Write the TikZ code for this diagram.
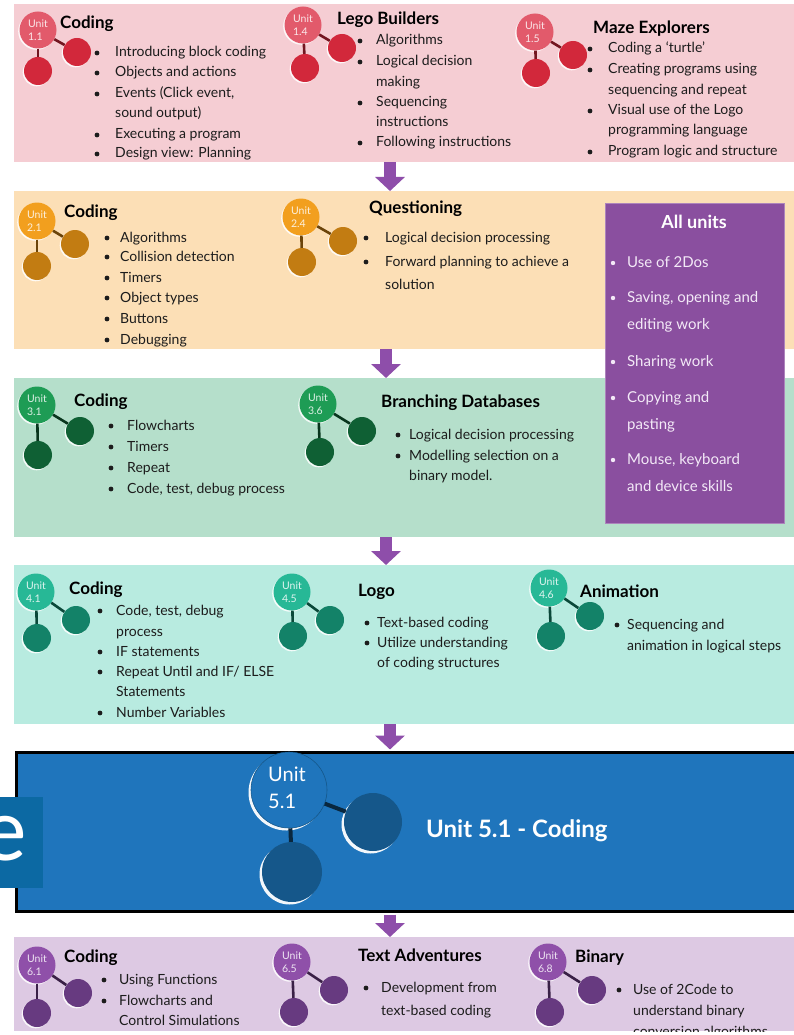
\documentclass[tikz,border=0pt]{standalone}
\usepackage{fontspec}
\setmainfont{Lato}
\usetikzlibrary{shadows,arrows.meta,calc}
\definecolor{txt}{HTML}{1C1C1C}
\definecolor{pinkband}{HTML}{F5CDD3}
\definecolor{pinkA}{HTML}{E25A6B}
\definecolor{pinkB}{HTML}{D2283B}
\definecolor{orgband}{HTML}{FCDFB6}
\definecolor{orgA}{HTML}{F29F1E}
\definecolor{orgB}{HTML}{C27C12}
\definecolor{grnband}{HTML}{B5DFCB}
\definecolor{grnA}{HTML}{1E9C55}
\definecolor{grnB}{HTML}{0F6034}
\definecolor{tealband}{HTML}{B8EBE0}
\definecolor{tealA}{HTML}{27B896}
\definecolor{tealB}{HTML}{138268}
\definecolor{blueband}{HTML}{1F75BC}
\definecolor{blueB}{HTML}{15578A}
\definecolor{eblue}{HTML}{0C69A3}
\definecolor{lavband}{HTML}{DDC9E3}
\definecolor{lavA}{HTML}{8F50A9}
\definecolor{lavB}{HTML}{673A80}
\definecolor{allbox}{HTML}{8A4F9F}
\definecolor{alltxt}{HTML}{F3E9F7}
\definecolor{arrp}{HTML}{8E4EAA}
\tikzset{
  band/.style={anchor=north west, inner sep=0pt, draw=none},
  bigc/.style={circle, fill=#1, minimum size=37pt, inner sep=0pt,
    drop shadow={shadow xshift=-1.3pt, shadow yshift=-1.3pt, fill=white, opacity=0.85}},
  smallc/.style={circle, fill=#1, minimum size=28pt, inner sep=0pt,
    drop shadow={shadow xshift=-1.3pt, shadow yshift=-1.3pt, fill=white, opacity=0.85}},
  conn/.style={draw=#1, line width=2.6pt},
  ulab/.style={text=white, opacity=0.85, font=\fontsize{10.5}{13}\selectfont, align=left, inner sep=0pt},
  ttlst/.style={font=\fontsize{17}{20}\selectfont\bfseries, anchor=base west, text=black, inner sep=0pt},
  btxt/.style={font=\fontsize{14}{16}\selectfont, anchor=base west, inner sep=0pt, text=txt},
  atxt/.style={font=\fontsize{15}{17}\selectfont, anchor=base west, inner sep=0pt, text=alltxt},
  parr/.style={draw=arrp, line width=12pt, -{Triangle[width=29pt,length=14pt]}},
}
\newcommand\uicon[7]{%
  \node[bigc=#6] (#1) at #2 {};
  \node[smallc=#7] (#1r) at #3 {};
  \node[smallc=#7] (#1b) at #4 {};
  \draw[conn=#7!55!black] (#1) -- (#1r);
  \draw[conn=#7!55!black] (#1) -- (#1b);
  \node[ulab] (#1l) at (#1) {Unit\\#5};
}
\newcommand\bi[4]{\fill[txt] (#1,#3+1) circle (2.4pt); \node[btxt] at (#2,#3+5) {#4};}
\newcommand\bc[3]{\node[btxt] at (#1,#2+5) {#3};}
\newcommand\ab[4]{\fill[alltxt] (#1,#3+1) circle (2.2pt); \node[atxt] at (#2,#3+5) {#4};}
\newcommand\ac[3]{\node[atxt] at (#1,#2+5) {#3};}
\newcommand\ttl[3]{\node[ttlst] at (#1,#2+6) {#3};}
\begin{document}
\begin{tikzpicture}[x=1pt,y=-1pt]
\useasboundingbox (0,0) rectangle (794,1035);
\clip (0,0) rectangle (794,1035);
\fill[white] (0,0) rectangle (794,1035);
% bands
\node[band, fill=pinkband, minimum width=790pt, minimum height=158pt] (b1) at (14,4) {};
\node[band, fill=orgband, minimum width=790pt, minimum height=158pt] (b2) at (14,191) {};
\node[band, fill=grnband, minimum width=790pt, minimum height=159pt] (b3) at (14,378) {};
\node[band, fill=tealband, minimum width=790pt, minimum height=159pt] (b4) at (14,565) {};
\node[band, fill=blueband, draw=black, line width=3pt, minimum width=800pt, minimum height=159pt] (b5) at (15,751) {};
\node[band, fill=lavband, minimum width=790pt, minimum height=94pt] (b6) at (14,937) {};
% arrows
\coordinate (a1) at (390,0);
\coordinate (a2) at (386,0);
\coordinate (a3) at (386,0);
\coordinate (a4) at (390,0);
\coordinate (a5) at (390,0);
\draw[parr] (b1.south -| a1) -- (b2.north -| a1);
\draw[parr] (b2.south -| a2) -- (b3.north -| a2);
\draw[parr] (b3.south -| a3) -- (b4.north -| a3);
\draw[parr] (b4.south -| a4) -- ([yshift=1.5pt]b5.north -| a4);
\draw[parr] ([yshift=-1.5pt]b5.south -| a5) -- (b6.north -| a5);
% ---------- band 1
\uicon{u11}{(38,30)}{(77,52)}{(38,71)}{1.1}{pinkA}{pinkB}
\ttl{60}{23}{Coding}
\bi{97}{115}{52}{Introducing block coding}
\bi{97}{115}{72}{Objects and actions}
\bi{97}{115}{93}{Events (Click event,}
\bc{115}{113}{sound output)}
\bi{97}{115}{134}{Executing a program}
\bi{97}{115}{153}{Design view: Planning}
\uicon{u14}{(303,25)}{(342,48)}{(305,68)}{1.4}{pinkA}{pinkB}
\ttl{337}{19}{Lego Builders}
\bi{360}{376}{40}{Algorithms}
\bi{360}{376}{61}{Logical decision}
\bc{376}{82}{making}
\bi{360}{376}{102}{Sequencing}
\bc{376}{122}{instructions}
\bi{360}{376}{142}{Following instructions}
\uicon{u15}{(535,32)}{(573,55)}{(536,73)}{1.5}{pinkA}{pinkB}
\ttl{593}{28}{Maze Explorers}
\bi{590}{608}{48}{Coding a ‘turtle’}
\bi{590}{608}{69}{Creating programs using}
\bc{608}{90}{sequencing and repeat}
\bi{590}{608}{110}{Visual use of the Logo}
\bc{608}{130}{programming language}
\bi{590}{608}{151}{Program logic and structure}
% ---------- band 2
\uicon{u21}{(37,221)}{(75,244)}{(37,266)}{2.1}{orgA}{orgB}
\ttl{64}{211}{Coding}
\bi{107}{120}{237}{Algorithms}
\bi{107}{120}{256}{Collision detection}
\bi{107}{120}{277}{Timers}
\bi{107}{120}{297}{Object types}
\bi{107}{120}{318}{Buttons}
\bi{107}{120}{339}{Debugging}
\uicon{u24}{(301,217)}{(343,241)}{(302,262)}{2.4}{orgA}{orgB}
\ttl{369}{207}{Questioning}
\bi{366}{385}{237}{Logical decision processing}
\bi{366}{385}{261}{Forward planning to achieve a}
\bc{385}{284}{solution}
% ---------- All units box
\node[band, fill=allbox, draw=allbox!70!white, line width=0.8pt, minimum width=179pt, minimum height=320pt] (all) at (605,203) {};
\node[font=\fontsize{18}{20}\selectfont\bfseries, text=white, anchor=base, inner sep=0pt] (allt) at (694,228) {All units};
\ab{613}{627}{262}{Use of 2Dos}
\ab{613}{627}{297}{Saving, opening and}
\ac{627}{324}{editing work}
\ab{613}{627}{361}{Sharing work}
\ab{613}{627}{397}{Copying and}
\ac{627}{424}{pasting}
\ab{613}{627}{459}{Mouse, keyboard}
\ac{627}{486}{and device skills}
% ---------- band 3
\uicon{u31}{(37,405)}{(80,431)}{(38,455)}{3.1}{grnA}{grnB}
\ttl{74}{400}{Coding}
\bi{111}{127}{425}{Flowcharts}
\bi{111}{127}{446}{Timers}
\bi{111}{127}{467}{Repeat}
\bi{111}{127}{488}{Code, test, debug process}
\uicon{u36}{(318,404)}{(362,431)}{(320,452)}{3.6}{grnA}{grnB}
\ttl{381}{401}{Branching Databases}
\bi{398}{409}{434}{Logical decision processing}
\bi{398}{409}{455}{Modelling selection on a}
\bc{409}{475}{binary model.}
% ---------- band 4
\uicon{u41}{(36,592)}{(76,620)}{(37,638)}{4.1}{tealA}{tealB}
\ttl{69}{588}{Coding}
\bi{100}{116}{610}{Code, test, debug}
\bc{116}{631}{process}
\bi{100}{116}{651}{IF statements}
\bi{100}{116}{671}{Repeat Until and IF/ ELSE}
\bc{116}{691}{Statements}
\bi{100}{116}{712}{Number Variables}
\uicon{u45}{(292,592)}{(330,620)}{(293,636)}{4.5}{tealA}{tealB}
\ttl{358}{590}{Logo}
\bi{367}{377}{622}{Text-based coding}
\bi{367}{377}{642}{Utilize understanding}
\bc{377}{662}{of coding structures}
\uicon{u46}{(549,588)}{(590,616)}{(551,636)}{4.6}{tealA}{tealB}
\ttl{580}{591}{Animation}
\bi{617}{627}{624}{Sequencing and}
\bc{627}{645}{animation in logical steps}
% ---------- band 5
\node[circle, fill=blueband, draw=blueB, line width=0.6pt, minimum size=76pt, inner sep=0pt,
  drop shadow={shadow xshift=-2.5pt, shadow yshift=-2.5pt, fill=white, opacity=0.95}] (u51) at (289,790) {};
\node[circle, fill=blueB, minimum size=58pt, inner sep=0pt,
  drop shadow={shadow xshift=-2.5pt, shadow yshift=-2.5pt, fill=white, opacity=0.95}] (u51r) at (373,822) {};
\node[circle, fill=blueB, minimum size=60pt, inner sep=0pt,
  drop shadow={shadow xshift=-2.5pt, shadow yshift=-2.5pt, fill=white, opacity=0.95}] (u51b) at (292,872) {};
\draw[blueB!45!black, line width=4pt] (u51) -- (u51r);
\draw[blueB!45!black, line width=4pt] (u51) -- (u51b);
\node[text=white, font=\fontsize{20}{27}\selectfont, align=left, inner sep=0pt] (u51l) at (287,788) {Unit\\5.1};
\node[text=white, font=\fontsize{24}{28}\selectfont\bfseries, anchor=base west, inner sep=0pt] (t51) at (426,837) {Unit 5.1 - Coding};
% "e" box
\node[band, fill=eblue, minimum width=43pt, minimum height=91pt] (ebox) at (0,797) {};
\node[text=white, font=\fontsize{86}{86}\selectfont, anchor=base east, inner sep=0pt] (etxt) at (27,860) {e};
% ---------- band 6
\begin{scope}
\clip (0,937) rectangle (794,1031);
\uicon{u61}{(37,965)}{(78,993)}{(37,1013)}{6.1}{lavA}{lavB}
\ttl{64}{956}{Coding}
\bi{104}{119}{979}{Using Functions}
\bi{104}{119}{1000}{Flowcharts and}
\bc{119}{1020}{Control Simulations}
\uicon{u65}{(292,962)}{(334,990)}{(294,1012)}{6.5}{lavA}{lavB}
\ttl{358}{955}{Text Adventures}
\bi{366}{381}{987}{Development from}
\bc{381}{1010}{text-based coding}
\uicon{u68}{(548,962)}{(592,990)}{(550,1012)}{6.8}{lavA}{lavB}
\ttl{575}{956}{Binary}
\bi{619}{633}{989}{Use of 2Code to}
\bc{633}{1010}{understand binary}
\bc{633}{1031}{conversion algorithms}
\end{scope}
\end{tikzpicture}
\end{document}
